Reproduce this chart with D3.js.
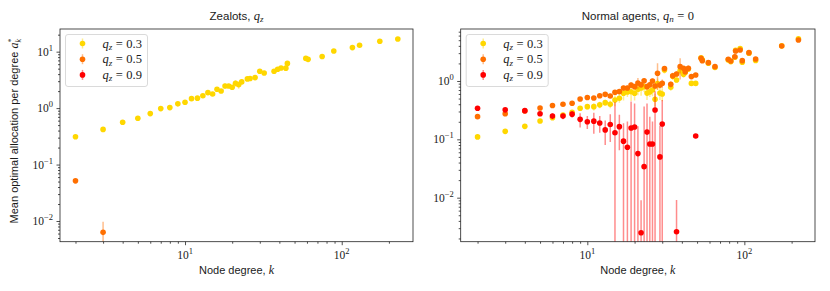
<!DOCTYPE html>
<html>
<head>
<meta charset="utf-8">
<script src="https://cdn.jsdelivr.net/npm/d3@7"></script>
<style>
body { margin: 0; background: #fff; }
svg text { fill: #1a1a1a; }
.sans { font-family: "Liberation Sans", Arial, sans-serif; }
.serif { font-family: "Liberation Serif", "Times New Roman", serif; }
</style>
</head>
<body>
<svg id="chart" width="830" height="291"></svg>
<script>
// ---- data ----
// left panel: zealots
let kZ03 = [2,3,4,5,6,7,8,9,10,11,12,13,14,15,16,17,18,19,20,21,22,23,25,26,28,30,32,37,39,41,44,45,59,61,75,89,117,130,175,228];
let aZ03 = [0.31,0.42,0.56,0.66,0.80,0.98,1.02,1.19,1.27,1.47,1.50,1.66,1.88,1.78,2.16,2.01,2.47,2.47,2.34,2.75,2.6,2.91,3.29,3.35,3.47,4.5,4.2,4.5,4.87,5.13,5.1,6.2,7.6,7.3,8.2,10.3,11.8,13.0,15.3,16.8];
let eZ03 = [0.01,0.01,0.01,0.02,0.02,0.03,0.03,0.05,0.06,0.1,0.06,0.08,0.15,0.1,0.12,0.1,0.25,0.2,0.15,0.35,0.4,0.3,0.25,0.3,0.2,0.15,0.15,0.1,0.1,0.1,0.1,0.1,0.1,0.1,0.1,0.1,0.1,0.1,0.1,0.1];
let kZ05 = [2,3];
let aZ05 = [0.0515,0.0063];
let eZ05 = [0.003,0.0034];
let kZ09 = [];   // all zero, nothing shows on a log axis
let aZ09 = [];
let eZ09 = [];

// right panel: normal agents
let kN = [2,3,4,5,6,7,8,9,10,11,12,13,14,15,16,17,18,19,20,21,22,23,24,25,26,27,28,29,30,31,34,35,37,39,41,42,44,46,49,53,54,59,65,79,82,87,88,94,97,107,118,173,221];
let aN03 = [0.11,0.137,0.167,0.206,0.235,0.26,0.29,0.34,0.363,0.363,0.39,0.425,0.40,0.47,0.505,0.615,0.65,0.655,0.615,0.72,0.76,0.8,0.62,0.65,0.7,0.485,0.9,0.62,0.6,1.55,0.78,1.2,1.04,1.5,1.3,1.4,1.6,0.91,0.91,2.5,2.3,2.02,1.7,2.3,2.15,2.55,3.35,3.6,2.1,3.0,2.25,4.0,5.3];
let eN03 = [0.005,0.006,0.007,0.008,0.01,0.01,0.012,0.03,0.04,0.05,0.05,0.05,0.06,0.1,0.08,0.15,0.12,0.2,0.15,0.15,0.2,0.15,0.15,0.12,0.15,0.12,0.2,0.15,0.15,0.2,0.1,0.15,0.1,0.2,0.15,0.15,0.15,0.05,0.05,0.1,0.1,0.1,0.1,0.1,0.1,0.1,0.1,0.1,0.1,0.1,0.1,0.1,0.1];
let aN05 = [0.245,0.275,0.305,0.345,0.38,0.40,0.415,0.49,0.52,0.51,0.56,0.59,0.553,0.64,0.656,0.76,0.76,0.85,0.80,0.92,0.86,1.01,0.8,0.86,1.0,0.82,1.36,0.85,0.91,1.63,0.877,1.23,1.32,1.76,1.65,1.44,1.65,1.19,1.27,2.45,2.23,2.06,1.76,2.36,2.2,2.61,3.27,3.4,2.23,3.06,2.38,3.98,5.05];
let eN05 = [0.01,0.01,0.01,0.015,0.015,0.015,0.02,0.03,0.03,0.04,0.04,0.04,0.04,0.06,0.06,0.08,0.08,0.1,0.08,0.2,0.1,0.1,0.1,0.1,0.1,0.1,0.65,0.1,0.15,0.1,0.1,0.15,0.15,0.7,0.15,0.15,0.2,0.1,0.1,0.1,0.1,0.1,0.1,0.1,0.1,0.1,0.1,0.1,0.1,0.1,0.1,0.1,0.1];
let aN09 = [0.34,0.32,0.31,0.275,0.25,0.25,0.27,0.22,0.20,0.205,0.19,0.145,0.18,0.13,0.165,0.093,0.073,0.156,0.163,0.057,0.0025,0.034,0.133,0.083,0.083,0.318,null,0.05,0.183,null,null,null,0.0026,null,null,null,null,null,0.114,null,null,null,null,null,null,null,null,null,null,null,null,null,null];
let eN09 = [0.02,0.02,0.02,0.025,0.03,0.03,0.035,0.06,0.05,0.08,0.06,0.065,0.09,0.3,0.1,0.095,0.13,0.29,0.25,0.11,0.0065,0.33,0.28,0.16,0.12,0.35,null,0.12,0.29,null,null,null,0.0065,null,null,null,null,null,0.01,null,null,null,null,null,null,null,null,null,null,null,null,null,null];

let qLabels = ['0.3', '0.5', '0.9'];
let colors = ['#ffd700', '#ff6f00', '#ff0000'];

let svg = d3.select('#chart');

// panel boxes (pixels) and axis limits
let panels = [
    { id: 'zealots', left: 60, right: 413, top: 29, bottom: 241.7,
      xdom: [1.593, 285], ydom: [0.0043, 25.2],
      series: [[kZ03, aZ03, eZ03], [kZ05, aZ05, eZ05], [kZ09, aZ09, eZ09]] },
    { id: 'normal', left: 460.7, right: 815, top: 29, bottom: 241.7,
      xdom: [1.562, 281.8], ydom: [0.00176, 7.78],
      series: [[kN, aN03, eN03], [kN, aN05, eN05], [kN, aN09, eN09]] }
];

function logTicks(dom) {
    let majors = [], minors = [];
    let lo = Math.floor(Math.log10(dom[0])), hi = Math.ceil(Math.log10(dom[1]));
    for (let e = lo; e <= hi; e++) {
        for (let m = 1; m < 10; m++) {
            let v = m * Math.pow(10, e);
            if (v < dom[0] || v > dom[1]) continue;
            if (m === 1) majors.push(v); else minors.push(v);
        }
    }
    return { majors: majors, minors: minors };
}

// writes 10^e into a text element
function powLabel(t, v) {
    let e = Math.round(Math.log10(v));
    t.append('tspan').text('10');
    t.append('tspan').attr('dy', -5).attr('font-size', 8.5)
        .text(e < 0 ? '\u2212' + (-e) : e);
}

function drawPanel(p, idx) {
    let x = d3.scaleLog().domain(p.xdom).range([p.left, p.right]);
    let y = d3.scaleLog().domain(p.ydom).range([p.bottom, p.top]);
    let g = svg.append('g').attr('id', p.id);

    g.append('clipPath').attr('id', 'clip-' + p.id)
        .append('rect')
        .attr('x', p.left).attr('y', p.top)
        .attr('width', p.right - p.left).attr('height', p.bottom - p.top);

    // ticks
    let xt = logTicks(p.xdom), yt = logTicks(p.ydom);
    let axes = g.append('g');
    let bottom = axes.append('g').attr('transform', `translate(0,${p.bottom})`);
    bottom.append('g').call(d3.axisBottom(x).tickValues(xt.minors).tickSize(2).tickFormat(''));
    bottom.append('g').call(d3.axisBottom(x).tickValues(xt.majors).tickSize(3.5).tickFormat(''));
    let leftAx = axes.append('g').attr('transform', `translate(${p.left},0)`);
    leftAx.append('g').call(d3.axisLeft(y).tickValues(yt.minors).tickSize(2).tickFormat(''));
    leftAx.append('g').call(d3.axisLeft(y).tickValues(yt.majors).tickSize(3.5).tickFormat(''));
    axes.selectAll('.domain').remove();
    axes.selectAll('line').attr('stroke', '#222').attr('stroke-width', 0.8);

    xt.majors.forEach(function(v) {
        let t = g.append('text').attr('class', 'serif').attr('font-size', 11.5)
            .attr('x', x(v)).attr('y', p.bottom + 17).attr('text-anchor', 'middle');
        powLabel(t, v);
    });
    yt.majors.forEach(function(v) {
        let t = g.append('text').attr('class', 'serif').attr('font-size', 11.5)
            .attr('x', p.left - 7).attr('y', y(v) + 4).attr('text-anchor', 'end');
        powLabel(t, v);
    });

    // data
    let plot = g.append('g').attr('clip-path', `url(#clip-${p.id})`);
    p.series.forEach(function(s, si) {
        let pts = [];
        for (let i = 0; i < s[0].length; i++) {
            if (s[1][i] == null || s[1][i] <= 0) continue;
            pts.push({ k: s[0][i], v: s[1][i], e: s[2][i] || 0 });
        }
        let sg = plot.append('g');
        sg.selectAll('line').data(pts).join('line')
            .attr('x1', d => x(d.k)).attr('x2', d => x(d.k))
            .attr('y1', d => y(d.v + d.e))
            .attr('y2', d => d.v - d.e > 0 ? y(d.v - d.e) : p.bottom + 5)
            .attr('stroke', colors[si]).attr('stroke-opacity', 0.45)
            .attr('stroke-width', 1.5);
        sg.selectAll('circle').data(pts).join('circle')
            .attr('cx', d => x(d.k)).attr('cy', d => y(d.v))
            .attr('r', 2.8).attr('fill', colors[si]);
    });

    // frame
    g.append('rect')
        .attr('x', p.left).attr('y', p.top)
        .attr('width', p.right - p.left).attr('height', p.bottom - p.top)
        .attr('fill', 'none').attr('stroke', '#222').attr('stroke-width', 0.8);

    // legend
    let lx = p.left + 5.5, ly = 34.5;
    let leg = g.append('g');
    leg.append('rect').attr('x', lx).attr('y', ly).attr('width', 82).attr('height', 52)
        .attr('rx', 2.5).attr('fill', '#fff').attr('fill-opacity', 0.8)
        .attr('stroke', '#d0d0d0').attr('stroke-width', 0.8);
    qLabels.forEach(function(q, i) {
        let cy = ly + 9 + i * 15.7;
        leg.append('line').attr('x1', lx + 17).attr('x2', lx + 17)
            .attr('y1', cy - 5).attr('y2', cy + 5)
            .attr('stroke', colors[i]).attr('stroke-opacity', 0.45).attr('stroke-width', 1.5);
        leg.append('circle').attr('cx', lx + 17).attr('cy', cy).attr('r', 2.8).attr('fill', colors[i]);
        let t = leg.append('text').attr('class', 'serif').attr('font-size', 12.5)
            .attr('x', lx + 37).attr('y', cy + 4);
        t.append('tspan').attr('font-style', 'italic').text('q');
        t.append('tspan').attr('font-style', 'italic').attr('font-size', 9).attr('dy', 2.5).text('z');
        t.append('tspan').attr('dy', -2.5).attr('dx', 3.5).text('=');
        t.append('tspan').attr('dx', 3.5).text(q);
    });

    // x label
    let cx = (p.left + p.right) / 2;
    let xl = g.append('text').attr('class', 'sans').attr('font-size', 11)
        .attr('x', cx).attr('y', 273.5).attr('text-anchor', 'middle');
    xl.append('tspan').text('Node degree, ');
    xl.append('tspan').attr('class', 'serif').attr('font-style', 'italic').attr('font-size', 12).text('k');

    return { x: x, y: y };
}

panels.forEach(drawPanel);

// titles
let t1 = svg.append('text').attr('class', 'sans').attr('font-size', 11.5)
    .attr('x', (panels[0].left + panels[0].right) / 2).attr('y', 19.5).attr('text-anchor', 'middle');
t1.append('tspan').text('Zealots, ');
t1.append('tspan').attr('class', 'serif').attr('font-style', 'italic').attr('font-size', 12.5).text('q');
t1.append('tspan').attr('class', 'serif').attr('font-style', 'italic').attr('font-size', 9).attr('dy', 2.5).text('z');

let t2 = svg.append('text').attr('class', 'sans').attr('font-size', 11.5)
    .attr('x', (panels[1].left + panels[1].right) / 2).attr('y', 19.5).attr('text-anchor', 'middle');
t2.append('tspan').text('Normal agents, ');
t2.append('tspan').attr('class', 'serif').attr('font-style', 'italic').attr('font-size', 12.5).text('q');
t2.append('tspan').attr('class', 'serif').attr('font-style', 'italic').attr('font-size', 9).attr('dy', 2.5).text('n');
t2.append('tspan').attr('class', 'serif').attr('font-size', 12.5).attr('dy', -2.5).attr('dx', 3.5).text('=');
t2.append('tspan').attr('class', 'serif').attr('font-size', 12.5).attr('dx', 3.5).text('0');

// y label
let yl = svg.append('text').attr('class', 'sans').attr('font-size', 11)
    .attr('transform', 'translate(18,131) rotate(-90)').attr('text-anchor', 'middle');
yl.append('tspan').text('Mean optimal allocation per degree ');
yl.append('tspan').attr('class', 'serif').attr('font-style', 'italic').attr('font-size', 12).text('a');
yl.append('tspan').attr('class', 'serif').attr('font-size', 8).attr('dy', -4.5).text('*');
yl.append('tspan').attr('class', 'serif').attr('font-style', 'italic').attr('font-size', 8).attr('dx', -4).attr('dy', 7.5).text('k');
</script>
</body>
</html>
